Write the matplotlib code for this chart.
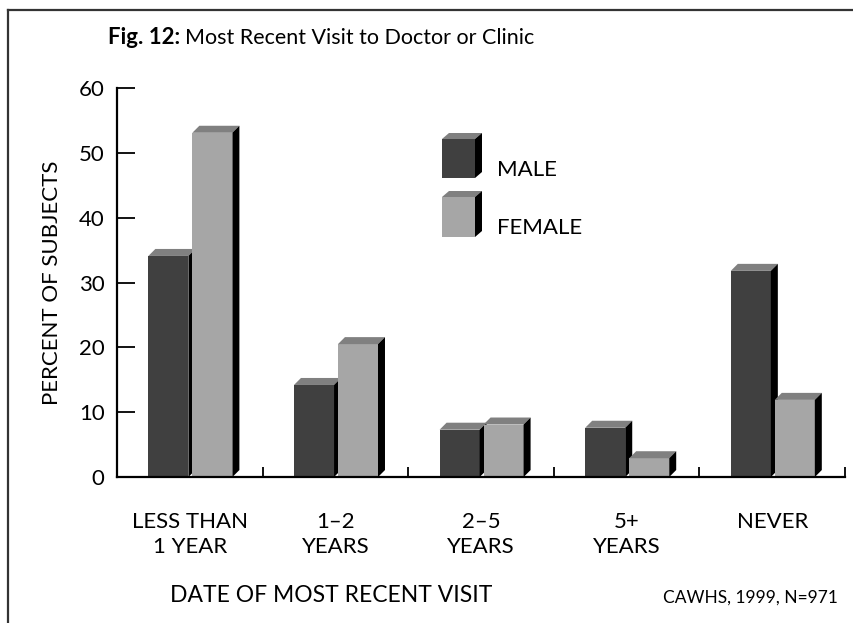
import matplotlib
matplotlib.use('Agg')
from matplotlib import pyplot as plt
from matplotlib.patches import Polygon
from matplotlib.lines import Line2D
import numpy as np

plt.rcParams['font.family'] = ['Lato', 'DejaVu Sans']

# Data
categories = ['LESS THAN\n1 YEAR', '1\u20132\nYEARS', '2\u20135\nYEARS', '5+\nYEARS', 'NEVER']
male = [34.1, 14.2, 7.3, 7.6, 31.8]
female = [53.1, 20.5, 8.1, 2.9, 11.9]
series_names = ['MALE', 'FEMALE']
yticks = [0, 10, 20, 30, 40, 50, 60]

front_cols = ['#404040', '#a6a6a6']
top_col = '#808080'
side_col = '#000000'

fig = plt.figure(figsize=(8.54, 6.23), dpi=100)
ax = fig.add_axes([0.137, 0.2343, 0.8525, 0.6244])
ax.set_xlim(-0.5, 4.5)
ax.set_ylim(0, 60)

x = np.arange(len(categories))
w = 0.275
offsets = [-0.147, 0.155]
# depth of the fake 3D, in data units (about 7 px each way)
dx = 0.048
dy = 1.08


def box3d(ax, xl, h, width, col):
    ax.bar(xl + width / 2, h, width, color=col, zorder=3, linewidth=0)
    top = Polygon([(xl, h), (xl + dx, h + dy), (xl + width + dx, h + dy), (xl + width, h)],
                  closed=True, facecolor=top_col, edgecolor='none', zorder=3, clip_on=False)
    side = Polygon([(xl + width, 0), (xl + width, h), (xl + width + dx, h + dy), (xl + width + dx, dy)],
                   closed=True, facecolor=side_col, edgecolor='none', zorder=3, clip_on=False)
    ax.add_patch(top)
    ax.add_patch(side)


for vals, off, col in zip([male, female], offsets, front_cols):
    for xi, v in zip(x, vals):
        box3d(ax, xi + off - w / 2, v, w, col)

# spines
for s in ['top', 'right']:
    ax.spines[s].set_visible(False)
ax.spines['left'].set_linewidth(1.6)
ax.spines['bottom'].set_linewidth(1.6)
ax.spines['bottom'].set_zorder(5)

ax.set_yticks(yticks)
ax.set_yticklabels([str(t) for t in yticks], fontsize=16)
ax.tick_params(axis='y', direction='in', length=13, width=1.3, pad=9)

# category separators as small upward ticks
ax.set_xticks([0.5, 1.5, 2.5, 3.5, 4.5])
ax.set_xticklabels([])
ax.tick_params(axis='x', direction='in', length=7, width=1.3)
ax.set_xticks(x, minor=True)
ax.set_xticklabels(categories, minor=True, fontsize=16, linespacing=1.35)
ax.tick_params(axis='x', which='minor', length=0, pad=25)

ax.set_ylabel('PERCENT OF SUBJECTS', fontsize=16, labelpad=12)

# legend drawn as 3D boxes in figure coordinates
for i, (name, col) in enumerate(zip(series_names, front_cols)):
    y_top = [139, 197][i]
    y_bot = [178, 237][i]
    x0 = 442 / 854
    x1 = 475 / 854
    ddx = 7 / 854
    ddy = 6 / 623
    ft = 1 - y_top / 623
    fb = 1 - y_bot / 623
    fig.patches.append(Polygon([(x0, fb), (x0, ft), (x1, ft), (x1, fb)], closed=True,
                               facecolor=col, edgecolor='none', transform=fig.transFigure))
    fig.patches.append(Polygon([(x0, ft), (x0 + ddx, ft + ddy), (x1 + ddx, ft + ddy), (x1, ft)], closed=True,
                               facecolor=top_col, edgecolor='none', transform=fig.transFigure))
    fig.patches.append(Polygon([(x1, fb), (x1, ft), (x1 + ddx, ft + ddy), (x1 + ddx, fb + ddy)], closed=True,
                               facecolor=side_col, edgecolor='none', transform=fig.transFigure))
    fig.text(497 / 854, 1 - [170, 228][i] / 623, name, fontsize=16, va='center', ha='left')

# title with bold prefix
t1 = fig.text(108 / 854, 1 - 38 / 623, 'Fig. 12:', fontsize=16, fontweight='bold', va='center', ha='left')
fig.canvas.draw()
bb = t1.get_window_extent(fig.canvas.get_renderer())
fig.text(bb.x1 / fig.bbox.width + 5 / 854, 1 - 38 / 623, 'Most Recent Visit to Doctor or Clinic',
         fontsize=15.5, va='center', ha='left')

fig.text(331 / 854, 1 - 595 / 623, 'DATE OF MOST RECENT VISIT', fontsize=16.5, ha='center', va='center')
fig.text(838 / 854, 1 - 598 / 623, 'CAWHS, 1999, N=971', fontsize=12.5, ha='right', va='center')

# frame lines at left and top of the figure
fig.add_artist(Line2D([8 / 854, 8 / 854], [0, 1 - 10 / 623], color='#333333', lw=1.6, transform=fig.transFigure))
fig.add_artist(Line2D([8 / 854, 1], [1 - 10 / 623, 1 - 10 / 623], color='#333333', lw=1.6, transform=fig.transFigure))

fig.savefig('out.png', dpi=100)
